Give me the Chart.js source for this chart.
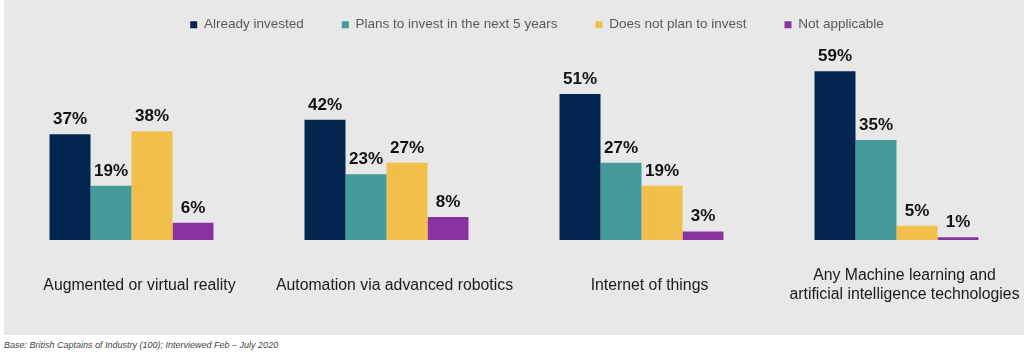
<!DOCTYPE html>
<html>
<head>
<meta charset="utf-8">
<script src="https://cdn.jsdelivr.net/npm/chart.js@4"></script>
<style>
  body { margin: 0; background: #fff; font-family: "Liberation Sans", Arial, sans-serif; }
  #panel { position: absolute; left: 4px; top: 0; width: 1020px; height: 335px; background: #e8e8e8; }
  #note { position: absolute; left: 4px; top: 340px; font-size: 9px; font-style: italic; color: #444; }
</style>
</head>
<body>
<div id="panel"><canvas id="myChart" width="1020" height="335"></canvas></div>
<div id="note">Base: British Captains of Industry (100); Interviewed Feb – July 2020</div>
<script>
const ctx = document.getElementById("myChart").getContext("2d");

const labels = [
    'Augmented or virtual reality',
    'Automation via advanced robotics',
    'Internet of things',
    ['Any Machine learning and', 'artificial intelligence technologies'],
];

const alreadyInvested = [37, 42, 51, 59];
const plansToInvest = [19, 23, 27, 35];
const noPlans = [38, 27, 19, 5];
const notApplicable = [6, 8, 3, 1];

const font = "'Liberation Sans', Arial, sans-serif";

// percentage labels above each bar
const valueLabels = {
    id: 'valueLabels',
    afterDatasetsDraw(chart) {
        const c = chart.ctx;
        c.save();
        c.font = "bold 17px " + font;
        c.fillStyle = '#111';
        c.textAlign = 'center';
        c.textBaseline = 'alphabetic';
        chart.data.datasets.forEach((ds, i) => {
            chart.getDatasetMeta(i).data.forEach((bar, j) => {
                c.fillText(ds.data[j] + '%', bar.x, bar.y - 10);
            });
        });
        c.restore();
    }
};

// legend: pulled up and a little right of centre, like the original
const legendShift = {
    id: 'legendShift',
    afterLayout(chart) {
        chart.legend.left += 23;
        chart.legend.right += 23;
        chart.legend.top -= 20;
        chart.legend.bottom -= 20;
    }
};

const data = {
    labels,
    datasets: [
        { label: 'Already invested', data: alreadyInvested, backgroundColor: '#032650' },
        { label: 'Plans to invest in the next 5 years', data: plansToInvest, backgroundColor: '#459b99' },
        { label: 'Does not plan to invest', data: noPlans, backgroundColor: '#f2bf4b' },
        { label: 'Not applicable', data: notApplicable, backgroundColor: '#8833a0' },
    ],
};

const config = {
    type: 'bar',
    data: data,
    plugins: [valueLabels, legendShift],
    options: {
        responsive: false,
        animation: false,
        categoryPercentage: 0.643,
        barPercentage: 1,
        layout: {
            padding: 0
        },
        plugins: {
            legend: {
                position: 'top',
                labels: {
                    boxWidth: 7,
                    boxHeight: 7,
                    padding: 38,
                    color: '#595959',
                    font: { family: font, size: 13.5 }
                }
            },
            tooltip: { enabled: false }
        },
        scales: {
            x: {
                grid: { display: false },
                border: { display: false },
                afterFit(scale) {
                    scale.paddingLeft = 0;
                    scale.paddingRight = 0;
                    scale.height = 95;
                },
                ticks: {
                    color: '#1a1a1a',
                    padding: 28,
                    labelOffset: 8,
                    crossAlign: 'center',
                    font: { family: font, size: 15.8, lineHeight: 1.2 }
                }
            },
            y: {
                display: false,
                min: 0,
                max: 62.4
            }
        }
    },
};

const myChart = new Chart(ctx, config);
</script>
</body>
</html>
